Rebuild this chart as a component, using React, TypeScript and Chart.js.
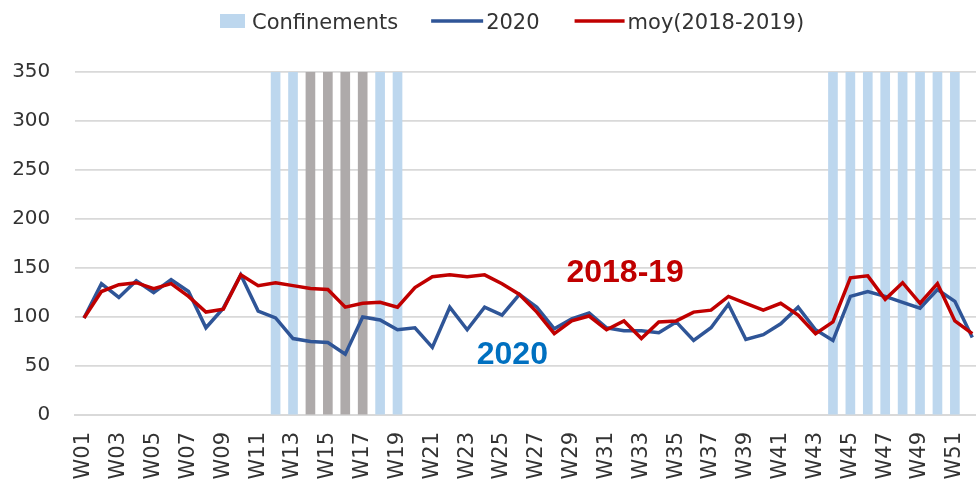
import React, { useEffect, useRef } from 'react';
import { Chart, registerables } from 'chart.js';

Chart.register(...registerables);

const weeks = [
  'W01','W02','W03','W04','W05','W06','W07','W08','W09','W10',
  'W11','W12','W13','W14','W15','W16','W17','W18','W19','W20',
  'W21','W22','W23','W24','W25','W26','W27','W28','W29','W30',
  'W31','W32','W33','W34','W35','W36','W37','W38','W39','W40',
  'W41','W42','W43','W44','W45','W46','W47','W48','W49','W50',
  'W51','W52',
];

const values2020 = [
  99, 134, 120, 137, 125, 138, 126, 89, 109, 143,
  106, 99, 78, 75, 74, 62, 100, 97, 87, 89,
  69, 110, 87, 110, 102, 123, 110, 88, 98, 104,
  89, 86, 86, 84, 95, 76, 89, 113, 77, 82,
  93, 110, 87, 76, 121, 126, 121, 115, 109, 128,
  116, 79,
];

const valuesAvg = [
  99, 126, 133, 135, 129, 134, 121, 105, 108, 143,
  132, 135, 132, 129, 128, 110, 114, 115, 110, 130,
  141, 143, 141, 143, 134, 123, 105, 83, 96, 101,
  87, 96, 78, 95, 96, 105, 107, 121, 114, 107,
  114, 102, 83, 95, 140, 142, 118, 135, 114, 134,
  96, 83,
];

const confinementWeeks = ['W12','W13','W18','W19','W44','W45','W46','W47','W48','W49','W50','W51'];
const strictWeeks = ['W14','W15','W16','W17'];
const barTop = 350;
const yTicks = [0, 50, 100, 150, 200, 250, 300, 350];

const BLUE = '#2F5597';
const RED = '#C00000';
const LIGHT = '#BDD7EE';
const GREY = '#AEAAAA';
const TEXT = '#333333';
const FONT = '"DejaVu Sans", sans-serif';

const legendPlugin = {
  id: 'customLegend',
  afterDraw(chart: any) {
    const ctx = chart.ctx;
    ctx.save();
    ctx.font = `21px ${FONT}`;
    ctx.fillStyle = TEXT;
    ctx.textBaseline = 'alphabetic';
    const base = 28.5;
    let x = 220;
    ctx.fillStyle = LIGHT;
    ctx.fillRect(x, 14, 25, 14);
    x += 32;
    ctx.fillStyle = TEXT;
    ctx.fillText('Confinements', x, base);
    x += ctx.measureText('Confinements').width + 33;
    ctx.strokeStyle = BLUE;
    ctx.lineWidth = 3.5;
    ctx.beginPath();
    ctx.moveTo(x, 21);
    ctx.lineTo(x + 52, 21);
    ctx.stroke();
    x += 55;
    ctx.fillText('2020', x, base);
    x += ctx.measureText('2020').width + 35;
    ctx.strokeStyle = RED;
    ctx.beginPath();
    ctx.moveTo(x, 21);
    ctx.lineTo(x + 50, 21);
    ctx.stroke();
    x += 53;
    ctx.fillText('moy(2018-2019)', x, base);
    ctx.restore();
  },
};

const annotationPlugin = {
  id: 'annotations',
  afterDatasetsDraw(chart: any) {
    const ctx = chart.ctx;
    const xs = chart.scales.x;
    const ys = chart.scales.y;
    ctx.save();
    ctx.font = `bold 32px "Liberation Sans", Arial, sans-serif`;
    ctx.textBaseline = 'alphabetic';
    ctx.textAlign = 'left';
    ctx.fillStyle = RED;
    ctx.fillText('2018-19', xs.getPixelForValue(27.7), ys.getPixelForValue(136));
    ctx.fillStyle = '#0070C0';
    ctx.fillText('2020', xs.getPixelForValue(22.55), ys.getPixelForValue(52.5));
    ctx.restore();
  },
};

export default function App() {
  const ref = useRef<HTMLCanvasElement | null>(null);

  useEffect(() => {
    if (!ref.current) return;
    const lightData = weeks.map((w) => (confinementWeeks.includes(w) ? barTop : null));
    const greyData = weeks.map((w) => (strictWeeks.includes(w) ? barTop : null));

    const chart = new Chart(ref.current, {
      type: 'bar',
      data: {
        labels: weeks,
        datasets: [
          {
            type: 'line',
            label: '2020',
            data: values2020,
            borderColor: BLUE,
            backgroundColor: BLUE,
            borderWidth: 3.5,
            pointRadius: 0,
            tension: 0,
            order: 0,
          },
          {
            type: 'line',
            label: 'moy(2018-2019)',
            data: valuesAvg,
            borderColor: RED,
            backgroundColor: RED,
            borderWidth: 3.5,
            pointRadius: 0,
            tension: 0,
            order: -1,
          },
          {
            type: 'bar',
            label: 'Confinements',
            data: lightData,
            backgroundColor: LIGHT,
            barThickness: 9,
            grouped: false,
            order: 2,
          },
          {
            type: 'bar',
            label: 'Confinement strict',
            data: greyData,
            backgroundColor: GREY,
            barThickness: 9,
            grouped: false,
            order: 2,
          },
        ] as any,
      },
      options: {
        animation: false,
        responsive: false,
        maintainAspectRatio: false,
        devicePixelRatio: 1,
        layout: { padding: { top: 72, left: 0, right: 0, bottom: 0 } },
        plugins: {
          legend: { display: false },
          tooltip: { enabled: false },
        },
        scales: {
          x: {
            offset: true,
            grid: { display: false, drawTicks: false },
            border: { display: true, color: '#d9d9d9', width: 2 },
            ticks: {
              autoSkip: false,
              minRotation: 90,
              maxRotation: 90,
              padding: 17,
              color: TEXT,
              font: { family: FONT, size: 21 },
              callback: (_v: any, i: number) => (i % 2 === 0 ? weeks[i] : ''),
            },
            afterFit: (s: any) => {
              s.height = 67;
              s.paddingLeft = 0;
              s.paddingRight = 0;
            },
          },
          y: {
            min: 0,
            max: 350,
            afterBuildTicks: (s: any) => {
              s.ticks = yTicks.map((v) => ({ value: v }));
            },
            grid: { color: '#d9d9d9', lineWidth: 1.7, drawTicks: false },
            border: { display: false },
            ticks: {
              padding: 25,
              color: TEXT,
              font: { family: FONT, size: 20 },
            },
            afterFit: (s: any) => {
              s.width = 75.3;
            },
          },
        },
      } as any,
      plugins: [legendPlugin, annotationPlugin],
    });
    return () => chart.destroy();
  }, []);

  return (
    <div style={{ position: 'fixed', left: 0, top: 0, width: 976, height: 482, overflow: 'hidden', background: '#fff' }}>
      <canvas ref={ref} width={981} height={482} style={{ display: 'block', width: 981, height: 482 }} />
    </div>
  );
}
